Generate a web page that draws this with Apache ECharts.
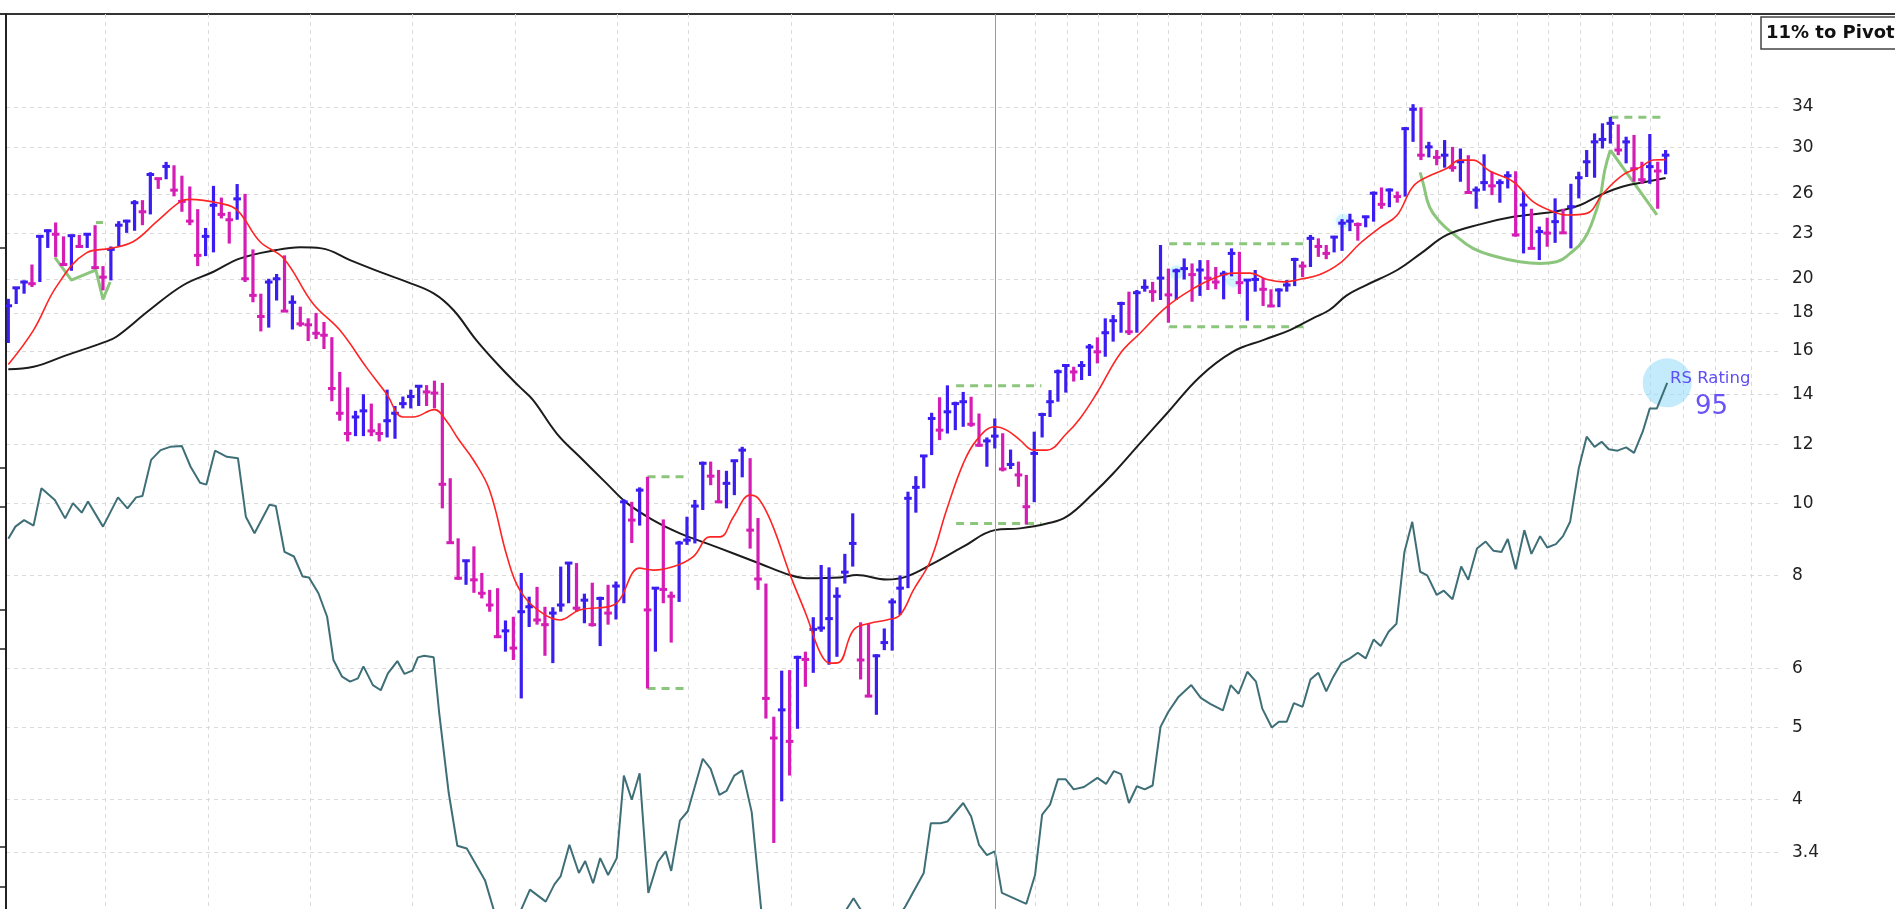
<!DOCTYPE html>
<html>
<head>
<meta charset="utf-8">
<script src="https://cdn.jsdelivr.net/npm/echarts@6/dist/echarts.min.js"></script>
<style>
html, body { margin: 0; padding: 0; background: #fff; }
#chart { width: 1895px; height: 909px; }
</style>
</head>
<body>
<div id="chart"></div>
<script>
// weekly bars: high / low / close, week index = position in the array
const barHigh = [18.8,19.5,19.9,20.9,22.9,23.3,23.8,22.8,22.9,22.9,
  23.0,23.6,20.8,22.1,23.9,24.0,25.5,25.5,27.8,27.3,
  28.7,28.4,27.5,26.6,24.8,23.4,26.65,25.7,24.6,26.8,
  26.0,21.9,19.1,20.0,20.3,21.5,19.0,18.35,17.7,18.0,
  17.5,16.7,15.0,14.3,13.3,14.0,13.6,12.8,14.2,13.5,
  13.9,14.2,14.4,14.4,14.6,14.5,10.8,8.97,8.39,8.75,
  8.06,7.65,7.69,6.96,7.04,8.06,7.49,7.72,7.26,7.25,
  8.22,8.32,8.31,7.56,7.82,7.49,7.77,7.85,10.12,10.04,
  10.5,10.85,7.71,9.51,7.61,8.9,9.59,10.1,11.37,11.37,
  11.08,11.05,11.43,11.9,11.49,9.55,7.8,5.17,5.96,5.97,
  6.24,6.32,7.03,8.26,8.2,7.71,8.55,9.69,6.92,6.89,
  6.27,6.79,7.45,8.0,10.36,10.87,11.6,13.22,13.87,14.39,
  13.68,14.1,13.89,13.19,12.25,12.99,12.41,11.8,11.37,10.91,
  12.47,13.22,14.18,15.11,15.32,15.24,15.51,16.35,16.69,17.7,
  17.88,18.63,19.22,19.32,19.96,19.81,22.2,20.64,20.64,21.3,
  20.97,21.19,21.19,20.74,20.5,21.97,21.74,19.96,20.55,20.04,
  19.36,19.42,19.92,21.34,21.1,22.9,22.66,22.2,22.83,24.05,
  24.45,23.8,24.3,26.19,26.52,26.44,26.19,31.97,34.3,33.97,
  30.53,29.77,30.7,30.06,29.91,29.3,26.6,29.38,27.84,27.2,
  27.88,27.88,26.19,24.83,23.5,24.15,25.64,24.83,26.82,27.84,
  29.77,31.34,32.33,32.97,32.22,31.02,31.19,28.71,31.28,28.71,
  29.77];
const barLow = [16.4,18.5,19.1,19.5,19.8,22.0,21.4,20.9,20.5,22.0,
  22.0,20.6,19.3,19.9,22.1,23.05,23.2,23.6,24.4,26.4,
  27.2,25.8,24.6,23.6,20.8,21.45,21.7,24.1,22.3,24.0,
  19.8,18.6,17.0,17.2,18.7,18.1,17.1,17.25,16.5,16.6,
  16.1,13.7,12.9,12.1,12.3,12.3,12.3,12.1,12.25,12.2,
  13.4,13.4,13.5,13.5,13.4,9.84,8.83,7.89,7.77,7.58,
  7.45,7.15,6.59,6.32,6.16,5.47,6.82,6.87,6.24,6.1,
  7.15,7.34,7.15,6.9,6.83,6.43,6.87,6.98,7.34,8.84,
  9.33,5.64,6.32,7.34,6.5,7.37,8.79,8.83,9.79,10.57,
  10.01,9.84,10.25,10.83,8.69,7.65,5.14,3.5,3.98,4.31,
  4.98,5.67,5.92,6.72,6.07,6.22,7.8,8.22,5.8,5.49,
  5.2,6.35,6.34,7.08,7.69,9.71,10.47,11.6,12.15,12.4,
  12.53,12.66,12.66,11.9,11.19,11.84,11.03,11.11,10.52,9.36,
  10.03,12.25,13.05,13.68,14.07,14.56,14.63,14.81,15.4,15.72,
  16.47,16.93,16.81,16.93,19.22,18.63,18.73,17.46,18.73,19.96,
  18.63,18.97,19.32,19.36,18.77,20.15,19.08,17.57,19.22,18.39,
  18.32,18.32,19.22,19.55,20.1,20.74,21.4,21.25,21.7,21.8,
  23.17,22.5,23.45,23.86,24.83,24.95,25.3,25.78,30.53,28.86,
  29.1,28.4,28.19,27.84,26.99,26.0,24.83,26.25,25.9,25.3,
  26.44,22.78,21.63,21.97,21.19,22.08,22.35,22.99,21.97,25.64,
  27.39,27.33,29.91,30.37,29.3,28.57,26.99,26.82,26.82,24.83,
  27.62];
const barClose = [18.4,19.45,19.8,19.7,22.8,23.2,22.95,20.9,22.85,22.1,
  22.95,20.7,20.1,21.9,23.6,23.9,25.3,24.6,27.6,27.25,
  28.3,26.3,25.4,23.9,21.5,22.8,25.1,24.4,24.0,25.6,
  20.0,19.0,17.8,19.8,20.0,18.1,18.6,17.4,17.35,16.9,
  16.8,14.25,13.2,12.4,13.05,13.3,12.5,12.4,12.9,13.2,
  13.6,13.9,14.35,14.1,14.05,10.6,8.85,7.93,8.37,7.89,
  7.57,7.3,6.62,6.74,6.39,7.15,7.26,6.97,6.87,7.12,
  7.3,8.31,7.23,7.41,6.87,7.45,7.12,7.74,10.04,9.49,
  10.41,7.19,7.69,7.66,7.5,8.84,8.92,9.91,11.31,10.87,
  10.04,10.63,11.4,11.78,9.2,7.91,5.47,4.84,5.28,4.79,
  6.21,6.17,6.77,6.8,7.0,7.5,8.08,8.83,6.16,5.51,
  6.24,6.5,7.37,7.69,10.15,10.5,11.57,12.99,12.53,13.26,
  13.6,13.68,12.76,11.96,12.12,12.3,11.11,11.27,10.91,9.89,
  11.66,13.15,13.68,15.01,15.3,15.0,15.3,16.2,15.96,16.93,
  17.57,18.53,16.98,19.16,19.48,19.22,20.04,19.03,20.5,20.64,
  20.26,20.55,20.04,19.8,20.3,21.63,19.76,19.92,19.96,19.36,
  18.39,19.32,19.62,21.23,20.8,22.66,22.1,21.63,22.75,23.75,
  23.9,23.65,24.22,26.05,25.17,26.31,25.78,31.8,33.76,29.3,
  30.06,29.1,29.3,28.19,28.71,26.11,26.31,26.92,26.65,26.92,
  27.5,22.9,25.12,21.97,23.14,23.03,23.86,23.05,24.99,27.33,
  28.71,30.53,30.76,32.33,29.77,30.53,28.1,27.16,28.28,27.9,
  29.3];

// 10-week line (red)
const ma10Weeks = [0,3.2,6.1,9.9,12.9,15.8,18.8,21.8,23.0,26.8,29.0,31.9,34.9,38.6,42.0,45.4,47.9,50.0,51.3,54.0,
  55.5,57.0,59.0,61.0,63.2,64.8,67.4,69.9,72.4,76.7,80.0,81.7,84.3,86.8,88.9,90.2,91.9,94.0,95.2,96.9,
  99.0,101.2,102.9,104.1,105.2,107.1,109.2,111.3,113.0,114.7,116.8,118.9,121.0,122.7,125.0,126.5,128.2,129.9,131.6,134.1,
  135.8,137.9,140.9,143.4,146.8,150.2,152.7,155.2,157.3,159.5,161.6,164.0,166.2,168.7,171.3,173.8,176.0,178.0,180.1,182.3,
  183.9,185.6,187.7,190.7,193.2,195.8,197.5,200.0,202.1,204.6,206.8,208.4,210.0];
const ma10Values = [15.35,17.07,19.52,21.67,21.97,22.42,23.86,25.38,25.56,25.25,24.73,22.42,21.3,18.53,17.07,15.2,14.03,13.05,13.05,13.35,
  12.9,12.2,11.4,10.4,8.48,7.65,7.15,6.97,7.19,7.30,8.18,8.13,8.22,8.48,9.01,9.01,9.59,10.25,10.1,9.3,
  8.05,7.04,6.29,6.1,6.11,6.76,6.9,6.97,7.08,7.65,8.35,9.8,11.3,12.15,12.66,12.53,12.15,11.78,11.78,12.4,
  12.99,14.03,15.88,16.9,18.35,19.42,20.02,20.35,20.35,19.96,19.81,20.0,20.26,20.97,22.32,23.43,24.36,26.6,27.5,28.14,
  28.86,28.86,27.9,26.99,25.38,24.6,24.36,24.48,26.05,27.57,28.24,28.86,28.9];

// 40-week line (black)
const ma40Weeks = [0,3.2,7.4,12.0,13.7,17.9,22.2,26.0,29.4,34.0,37.0,39.7,43.3,47.5,50.5,53.9,56.4,59.3,62.3,64.8,
  66.5,69.5,72.4,75.8,78.4,81.7,85.1,88.5,91.9,95.2,99.0,101.2,105.4,107.5,111.3,113.8,117.2,121.0,125.0,128.2,
  131.6,134.1,137.5,140.0,143.4,146.8,151.0,155.2,159.0,162.4,165.3,167.4,169.6,172.0,176.0,179.0,182.3,186.6,190.7,194.9,
  197.0,199.2,201.7,204.6,207.6,210.0];
const ma40Values = [15.12,15.24,15.8,16.42,16.72,18.16,19.62,20.44,21.3,21.86,22.04,21.97,21.19,20.35,19.81,19.12,18.16,16.55,15.24,14.32,
  13.75,12.4,11.54,10.63,10.0,9.49,9.11,8.83,8.56,8.3,8.01,7.93,7.95,8.01,7.9,7.97,8.3,8.74,9.2,9.25,
  9.39,9.59,10.31,10.96,12.03,13.19,14.78,15.97,16.55,17.07,17.7,18.16,19.0,19.6,20.55,21.63,22.9,23.68,24.22,24.52,
  24.73,25.12,25.9,26.6,26.99,27.3];

// relative strength line (teal)
const rsWeeks = [0,0.9,2.0,3.2,4.2,5.9,7.2,8.2,9.3,10.1,
  12.0,13.9,15.1,16.2,17.0,18.1,19.3,20.5,22.0,23.1,
  24.3,25.1,26.2,27.7,29.1,30.1,31.2,33.1,33.9,35.0,
  36.2,37.3,38.1,39.3,40.4,41.2,42.3,43.3,44.3,45.0,
  46.2,47.2,48.1,49.3,50.2,51.2,51.9,52.7,53.9,54.6,
  55.8,56.9,58.1,60.4,61.5,63.0,65.0,66.1,68.1,69.2,
  70.0,71.1,72.3,73.1,74.1,75.0,76.0,77.1,78.0,79.0,
  80.0,81.1,82.3,83.3,84.0,85.1,86.1,88.0,89.0,90.1,
  91.0,92.0,93.0,94.2,95.4,100.0,106.2,107.1,108.0,111.0,
  113.7,116.0,116.9,118.1,119.0,121.0,122.0,123.0,124.0,125.0,
  125.9,129.0,130.1,131.0,132.0,133.0,134.0,135.0,136.3,138.0,
  139.1,140.1,141.0,142.0,143.0,144.0,145.0,146.0,147.0,148.3,
  149.9,151.1,152.3,153.9,154.9,155.9,157.0,158.1,158.9,160.1,
  161.0,162.0,162.9,164.0,165.0,166.0,167.0,167.9,168.9,170.0,
  171.0,172.0,173.0,173.9,174.9,175.9,176.9,177.9,178.9,179.8,
  181.0,181.9,183.0,184.1,185.0,186.1,187.2,188.2,189.2,190.0,
  191.0,192.1,193.0,194.1,195.0,196.1,197.0,197.9,199.0,200.0,
  201.0,201.9,202.8,203.9,205.0,206.0,207.1,208.0,208.9,210.2];
const rsValues = [8.96,9.3,9.49,9.33,10.47,10.1,9.54,10.0,9.71,10.05,
  9.3,10.18,9.84,10.18,10.22,11.43,11.78,11.9,11.93,11.19,
  10.65,10.59,11.76,11.54,11.49,9.59,9.11,9.95,9.91,8.6,
  8.48,7.97,7.95,7.57,7.04,6.16,5.85,5.76,5.82,6.04,
  5.7,5.61,5.91,6.14,5.9,5.96,6.21,6.24,6.21,5.23,
  4.09,3.47,3.44,3.12,2.85,2.6,2.85,3.03,2.92,3.08,
  3.16,3.48,3.19,3.31,3.09,3.34,3.17,3.34,4.31,4.0,
  4.34,3.0,3.3,3.41,3.21,3.75,3.86,4.54,4.4,4.06,
  4.11,4.31,4.38,3.85,2.85,2.5,2.85,2.95,2.85,2.6,
  2.88,3.19,3.72,3.72,3.74,3.96,3.8,3.48,3.37,3.41,
  3.0,2.9,3.17,3.82,3.94,4.26,4.26,4.13,4.16,4.28,
  4.2,4.37,4.33,3.96,4.17,4.13,4.18,5.01,5.25,5.5,
  5.7,5.48,5.38,5.27,5.7,5.55,5.94,5.76,5.3,5.0,
  5.09,5.09,5.39,5.33,5.8,5.92,5.59,5.85,6.1,6.19,
  6.3,6.19,6.56,6.43,6.72,6.89,8.59,9.44,8.09,8.0,
  7.53,7.63,7.43,8.22,7.89,8.69,8.88,8.63,8.6,8.95,
  8.15,9.2,8.55,9.03,8.72,8.81,9.03,9.44,11.14,12.28,
  11.9,12.09,11.81,11.76,11.88,11.68,12.47,13.4,13.4,14.5];
const rsRating = 95;

// base patterns (green)
const baseStart = [81.0, 81.0, 120.1, 120.1, 147.1, 147.1, 203.0];
const baseEnd   = [86.0, 86.0, 130.9, 130.9, 164.1, 164.1, 210.0];
const baseLevel = [10.85, 5.64, 14.37, 9.39, 22.28, 17.25, 32.93];
const cupWeeks  = [178.9,179.3,180.1,181.4,183.1,185.6,188.6,191.5,194.1,196.2,197.9,199.6,200.8,201.7,202.3,203.0];
const cupValues = [27.79,26.82,24.95,23.86,22.98,21.97,21.41,21.08,20.97,21.08,21.63,22.54,23.98,25.73,27.99,29.77];
const handleWeeks  = [203.0, 208.9];
const handleValues = [29.77, 24.36];
const earlyWeeks  = [5.9, 8.0, 10.35, 11.1, 12.0, 12.9];
const earlyValues = [21.37, 19.92, 20.4, 20.55, 18.77, 19.8];
const earlyPivotWeeks = [11.1, 12.0];
const earlyPivotValue = 23.8;
const glowWeeks  = [148.0, 155.2, 169.1];
const glowValues = [20.4, 19.9, 23.9];

// axis ticks
const priceTicks = [3.4, 4, 5, 6, 8, 10, 12, 14, 16, 18, 20, 23, 26, 30, 34];
const leftTicks = [22.04, 11.14, 9.88, 7.19, 6.37, 3.46, 3.06];
const weekGrid = [12.25, 25.3, 38.2, 51.2, 64.2, 77.1, 86.1, 99.2, 112.1, 125.1, 130.1, 134.2, 138.1, 143.0, 147.0,
  151.2, 156.1, 160.1, 164.1, 169.0, 173.1, 177.2, 181.2, 186.3, 191.2, 195.1, 199.2, 203.2, 208.1, 212.2, 216.3, 220.9];
const yearLine = 125.1;

const UP = '#3a1df0';
const DOWN = '#d51db6';
const GREEN = '#8cc57c';

const barData = barHigh.map((h, i) => [i, h, barLow[i], barClose[i], (i === 0 || barClose[i] >= barClose[i - 1]) ? 1 : 0]);
const pairs = (xs, ys) => xs.map((x, k) => [x, ys[k]]);

const baseSeries = baseLevel.map((lv, k) => ({
  type: 'line',
  data: [[baseStart[k], lv], [baseEnd[k], lv]],
  symbol: 'none',
  lineStyle: { color: GREEN, width: 3, type: [8, 6] },
  z: 3,
  silent: true
}));

const chart = echarts.init(document.getElementById('chart'));
chart.setOption({
  animation: false,
  grid: { left: 6, right: 113, top: 14, bottom: 0 },
  xAxis: {
    type: 'value',
    min: -0.29,
    max: 224.75,
    axisLine: { show: false },
    axisTick: { show: false, customValues: weekGrid },
    axisLabel: { show: false },
    splitLine: { show: true, lineStyle: { color: '#dadada', width: 1, type: [4, 4] } }
  },
  yAxis: [
    {
      type: 'log',
      position: 'right',
      min: 2.854,
      max: 45.32,
      axisLine: { show: false },
      axisTick: { show: false, customValues: priceTicks },
      axisLabel: {
        customValues: priceTicks,
        margin: 10,
        color: '#222',
        fontSize: 17,
        fontFamily: 'DejaVu Sans'
      },
      splitLine: { show: true, lineStyle: { color: '#dadada', width: 1, type: [4, 4] } }
    },
    {
      type: 'log',
      position: 'left',
      min: 2.854,
      max: 45.32,
      axisLine: { show: true, lineStyle: { color: '#222', width: 2 } },
      axisTick: { show: true, customValues: leftTicks, length: 6, lineStyle: { color: '#222', width: 1.5 } },
      axisLabel: { show: false },
      splitLine: { show: false }
    }
  ],
  series: [
    {
      type: 'line',
      data: [],
      markLine: {
        silent: true,
        symbol: 'none',
        label: { show: false },
        lineStyle: { color: '#9a9a9a', width: 1, type: 'solid' },
        data: [{ xAxis: yearLine }]
      }
    },
    {
      type: 'scatter',
      data: pairs(glowWeeks, glowValues),
      symbolSize: 14,
      itemStyle: { color: 'rgba(150,232,255,0.45)', shadowBlur: 8, shadowColor: 'rgba(150,232,255,0.7)' },
      z: 1,
      silent: true
    },
    {
      type: 'line',
      data: pairs(rsWeeks, rsValues),
      symbol: 'none',
      lineStyle: { color: '#3e6f77', width: 2 },
      z: 4,
      silent: true
    },
    {
      type: 'scatter',
      data: [[rsWeeks[rsWeeks.length - 1], rsValues[rsValues.length - 1]]],
      symbolSize: 49,
      itemStyle: { color: 'rgba(150,220,250,0.7)' },
      z: 3,
      silent: true
    },
    {
      type: 'line',
      data: pairs(ma40Weeks, ma40Values),
      smooth: 0.4,
      symbol: 'none',
      lineStyle: { color: '#1c1c1c', width: 2 },
      z: 4,
      silent: true
    },
    {
      type: 'line',
      data: pairs(ma10Weeks, ma10Values),
      smooth: 0.4,
      symbol: 'none',
      lineStyle: { color: '#ff2424', width: 1.6 },
      z: 6,
      silent: true
    },
    {
      type: 'line',
      data: pairs(cupWeeks, cupValues),
      smooth: 0.45,
      symbol: 'none',
      lineStyle: { color: GREEN, width: 3 },
      z: 3,
      silent: true
    },
    {
      type: 'line',
      data: pairs(handleWeeks, handleValues),
      symbol: 'none',
      lineStyle: { color: GREEN, width: 3 },
      z: 3,
      silent: true
    },
    {
      type: 'line',
      data: pairs(earlyWeeks, earlyValues),
      symbol: 'none',
      lineStyle: { color: GREEN, width: 3 },
      z: 3,
      silent: true
    },
    {
      type: 'line',
      data: earlyPivotWeeks.map(w => [w, earlyPivotValue]),
      symbol: 'none',
      lineStyle: { color: GREEN, width: 3 },
      z: 3,
      silent: true
    },
    ...baseSeries,
    {
      type: 'custom',
      data: barData,
      encode: { x: 0, y: [1, 2] },
      clip: true,
      z: 5,
      silent: true,
      renderItem: function (params, api) {
        const i = api.value(0);
        const hi = api.coord([i, api.value(1)]);
        const lo = api.coord([i, api.value(2)]);
        const cl = api.coord([i, api.value(3)]);
        const color = api.value(4) ? UP : DOWN;
        return {
          type: 'group',
          children: [
            { type: 'rect', shape: { x: hi[0] - 1.6, y: hi[1], width: 3.2, height: Math.max(lo[1] - hi[1], 2) }, style: { fill: color } },
            { type: 'rect', shape: { x: cl[0] - 3.8, y: cl[1] - 1.5, width: 7.6, height: 3 }, style: { fill: color } }
          ]
        };
      }
    }
  ],
  graphic: [
    { type: 'line', shape: { x1: 0, y1: 14, x2: 1895, y2: 14 }, style: { stroke: '#333', lineWidth: 2 }, silent: true },
    { type: 'rect', shape: { x: 1761, y: 17, width: 150, height: 32 }, style: { fill: '#fff', stroke: '#444', lineWidth: 1.5 }, z: 10 },
    { type: 'text', x: 1766, y: 33, z: 11, style: { text: '11% to Pivot', fill: '#111', font: 'bold 18px "DejaVu Sans", sans-serif', verticalAlign: 'middle' } },
    { type: 'text', x: 1670, y: 379, z: 11, style: { text: 'RS Rating', fill: '#5f4ff2', font: '16.5px "DejaVu Sans", sans-serif', verticalAlign: 'middle' } },
    { type: 'text', x: 1695, y: 407, z: 11, style: { text: String(rsRating), fill: '#6a55f4', font: '26px "DejaVu Sans", sans-serif', verticalAlign: 'middle' } }
  ]
});
</script>
</body>
</html>
